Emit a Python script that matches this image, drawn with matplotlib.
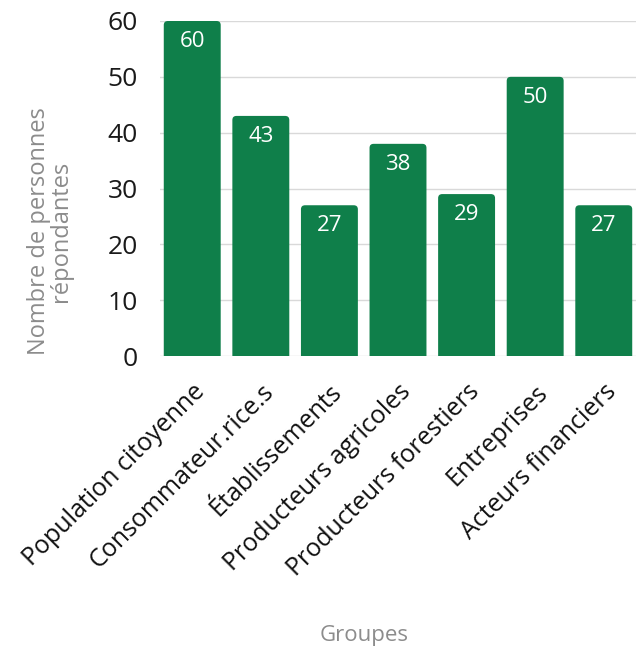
import matplotlib
matplotlib.use("Agg")
import matplotlib.pyplot as plt
from matplotlib.patches import FancyBboxPatch

# data
groupes = ["Population citoyenne", "Consommateur.rice.s", "Établissements",
           "Producteurs agricoles", "Producteurs forestiers", "Entreprises",
           "Acteurs financiers"]
repondants = [60, 43, 27, 38, 29, 50, 27]
y_ticks = [0, 10, 20, 30, 40, 50, 60]

bar_color = "#0f7f4a"
label_gray = "#8c8c8c"

fig = plt.figure(figsize=(6.36, 6.48), dpi=100)
ax = fig.add_axes([160 / 636, 1 - 356 / 648, 476 / 636, 335 / 648])

x = range(len(groupes))
bars = ax.bar(x, repondants, width=0.83, color=bar_color, zorder=3)

# rounded top corners: swap each bar for a rounded box whose bottom sits below 0
for b in bars:
    b.set_visible(False)
    p = FancyBboxPatch((b.get_x(), -3), b.get_width(), b.get_height() + 3,
                       boxstyle="round,pad=0,rounding_size=0.06",
                       mutation_aspect=12, fc=bar_color, ec="none", zorder=3)
    ax.add_patch(p)

for b, v in zip(bars, repondants):
    ax.text(b.get_x() + b.get_width() / 2, v - 1.8, str(v), ha="center", va="top",
            color="white", fontsize=16, family="Open Sans", zorder=4)

ax.set_xlim(-0.47, 6.47)
ax.set_ylim(0, 60)
ax.set_yticks(y_ticks)
ax.set_yticklabels([str(t) for t in y_ticks], fontsize=19, family="Open Sans", color="#1a1a1a")
ax.set_xticks(list(x))
ax.set_xticklabels(groupes, rotation=45, ha="right", rotation_mode="anchor",
                   fontsize=18, family="Open Sans", color="#111111")
ax.tick_params(axis="both", length=0)
ax.tick_params(axis="y", pad=16)
ax.tick_params(axis="x", pad=17)
ax.grid(axis="y", color="#d9d9d9", linewidth=1, zorder=0)
for s in ax.spines.values():
    s.set_visible(False)

fig.text(50 / 636, 1 - 231 / 648, "Nombre de personnes\nrépondantes", rotation=90,
         ha="center", va="center", multialignment="center", fontsize=17,
         family="Open Sans", color=label_gray, linespacing=0.92)
fig.text(364 / 636, 1 - 635 / 648, "Groupes", ha="center", va="center",
         fontsize=16, family="Open Sans", color=label_gray)

fig.savefig("out.png", dpi=100)
